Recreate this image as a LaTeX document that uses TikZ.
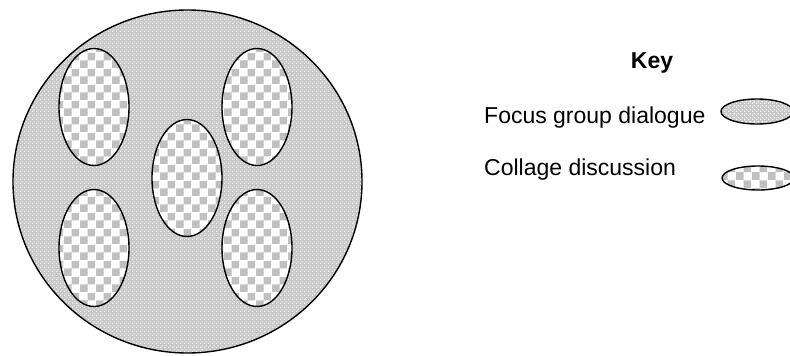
\documentclass[tikz,border=0pt]{standalone}
\usepackage{fontspec}
\setmainfont{Liberation Sans}
\usetikzlibrary{shapes.geometric,patterns}
\pgfdeclarepatternformonly{bigcheck}{\pgfqpoint{0pt}{0pt}}{\pgfqpoint{16pt}{16pt}}{\pgfqpoint{16pt}{16pt}}{%
 \pgfpathrectangle{\pgfqpoint{0pt}{0pt}}{\pgfqpoint{8pt}{8pt}}%
 \pgfpathrectangle{\pgfqpoint{8pt}{8pt}}{\pgfqpoint{8pt}{8pt}}%
 \pgfusepath{fill}}
\pgfdeclarepatternformonly{finedots}{\pgfqpoint{0pt}{0pt}}{\pgfqpoint{4pt}{4pt}}{\pgfqpoint{4pt}{4pt}}{%
 \pgfpathrectangle{\pgfqpoint{0pt}{0pt}}{\pgfqpoint{1.4pt}{1.4pt}}%
 \pgfpathrectangle{\pgfqpoint{2pt}{2pt}}{\pgfqpoint{1.4pt}{1.4pt}}%
 \pgfusepath{fill}}
\definecolor{checkgray}{RGB}{192,192,192}
\definecolor{finegray}{RGB}{200,200,200}
\tikzset{
  outline/.style={draw=black, line width=1.4pt},
  fgd/.style={outline, ellipse, preaction={fill=finegray}, pattern=finedots, pattern color=white, inner sep=0pt},
  cd/.style={outline, ellipse, preaction={fill=white}, pattern=bigcheck, pattern color=checkgray, inner sep=0pt},
  lbl/.style={font=\fontsize{23}{27}\selectfont, inner sep=0pt},
}
\begin{document}
\begin{tikzpicture}[x=1pt,y=-1pt]
\useasboundingbox (0,0) rectangle (790,356);
\clip (0,0) rectangle (790,356);
\node[fgd, minimum width=349pt, minimum height=343pt] (group) at (187.5,181.5) {};
\node[cd, minimum width=70pt, minimum height=117pt] (c1) at (94,107) {};
\node[cd, minimum width=70pt, minimum height=117pt] (c2) at (257,107) {};
\node[cd, minimum width=70pt, minimum height=117pt] (c3) at (187,178) {};
\node[cd, minimum width=70pt, minimum height=117pt] (c4) at (94,248) {};
\node[cd, minimum width=70pt, minimum height=117pt] (c5) at (257,248) {};
\node[lbl, font=\fontsize{23}{27}\selectfont\bfseries, anchor=base] (key) at (652,68) {Key};
\node[lbl, anchor=base west] (fgtext) at (484,123) {Focus group dialogue};
\node[lbl, anchor=base west] (cdtext) at (484,175) {Collage discussion};
\node[fgd, minimum width=72pt, minimum height=25pt] (fgkey) at (757,111.5) {};
\node[cd, minimum width=72pt, minimum height=24pt] (cdkey) at (758,178) {};
\end{tikzpicture}
\end{document}
